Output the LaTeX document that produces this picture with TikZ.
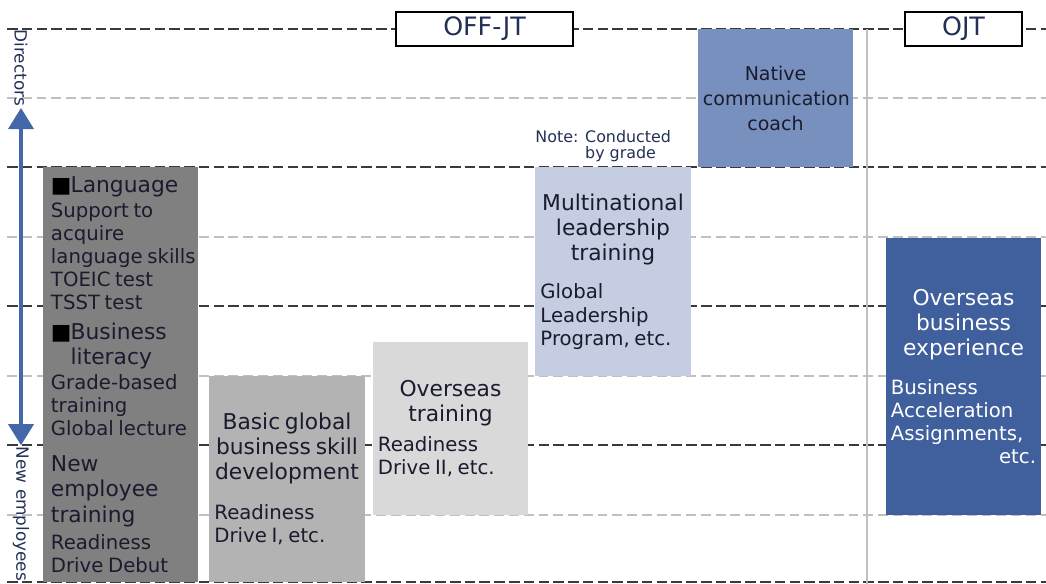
\documentclass[tikz,border=0pt]{standalone}
\usepackage{fontspec}
\setmainfont{DejaVu Sans}
\usepackage{tikz}
\usetikzlibrary{arrows.meta,positioning}
\definecolor{Ink}{HTML}{1A1B2E}
\definecolor{Navy}{HTML}{233056}
\definecolor{AxisBlue}{HTML}{4467AA}
\definecolor{GridDark}{HTML}{3A3A3A}
\definecolor{GridLight}{HTML}{C0C0C0}
\definecolor{GrayDark}{HTML}{808080}
\definecolor{GrayMid}{HTML}{B3B3B3}
\definecolor{GrayLight}{HTML}{D9D9D9}
\definecolor{BlueLight}{HTML}{C5CDE2}
\definecolor{BlueMid}{HTML}{7890BD}
\definecolor{BlueDeep}{HTML}{3F5F9D}
\newcommand{\headfont}{\fontsize{15.5}{17.8}\selectfont}
\newcommand{\bodyfont}{\fontsize{14}{16.4}\selectfont}
\newcommand{\bulletsq}{\makebox[14pt][l]{\textcolor{black}{■}}}

\begin{document}
\begin{tikzpicture}[
    x=0.025cm,y=-0.025cm,
    majorline/.style={draw=GridDark,line width=1.4pt,dash pattern=on 7.5pt off 3pt},
    minorline/.style={draw=GridLight,line width=1pt,dash pattern=on 7pt off 3.5pt},
    cell/.style={rectangle,minimum width=3.875cm,text width=3.625cm,inner xsep=0.125cm,inner ysep=0pt,align=left,text=Ink},
    tag/.style={rectangle,draw=black,line width=1.2pt,fill=white,minimum height=0.85cm,font=\fontsize{18}{20}\selectfont,text=Navy},
    axislabel/.style={rotate=-90,font=\fontsize{12}{13}\selectfont,text=Navy,inner sep=1pt}
]
\useasboundingbox (0,0) rectangle (1046,584);
% grade lines
\foreach \y in {98,237,376,515}{
    \draw[minorline] (7,\y) -- (1046,\y);
}
\foreach \y in {29,167,306,445,582}{
    \draw[majorline] (7,\y) -- (1046,\y);
}
\draw[GridLight,line width=1.5pt] (867,29) -- (867,584);
% programmes
\node[cell,fill=GrayDark,minimum height=10.375cm,text width=3.475cm,inner xsep=0.2cm] (lang) at (120.5,374.5) {%
    {\headfont\bulletsq Language\par}\vspace{1.4pt}
    {\bodyfont Support to\\acquire\\\mbox{language skills}\\TOEIC test\\TSST test\par}\vspace{3.5pt}
    {\headfont\bulletsq Business\\\hspace*{14pt}literacy\par}\vspace{1.4pt}
    {\bodyfont Grade-based\\training\\Global lecture\par}\vspace{7.8pt}
    {\headfont New\\employee\\training\par}\vspace{2.8pt}
    {\bodyfont Readiness\\Drive Debut\par}};
\node[cell,fill=GrayMid,minimum height=5.15cm] (basic) at (287,479) {%
    {\centering\headfont Basic global\\business skill\\development\par}\vspace{12pt}
    {\bodyfont Readiness\\Drive I, etc.\par}};
\node[cell,fill=GrayLight,minimum height=4.325cm] (ovtrain) at (450.5,428.5) {%
    {\centering\headfont Overseas\\training\par}\vspace{5.5pt}
    {\bodyfont Readiness\\Drive II, etc.\par}};
\node[cell,fill=BlueLight,minimum height=5.225cm] (multi) at (613,271.5) {%
    {\centering\headfont Multinational\\leadership\\training\par}\vspace{11pt}
    {\bodyfont Global\\Leadership\\Program, etc.\par}};
\node[cell,fill=BlueMid,minimum height=3.45cm] (native) at (775.5,98) {%
    {\centering\fontsize{13.5}{17.8}\selectfont Native\\communication\\coach\par}};
\node[cell,fill=BlueDeep,text=white,minimum height=6.925cm] (ovbiz) at (963.5,376.5) {%
    {\centering\headfont Overseas\\business\\experience\par}\vspace{11pt}
    {\bodyfont Business\\Acceleration\\Assignments,\par\raggedleft etc.\par}};
\node[above right=3pt and 0pt of multi.north west,align=left,inner sep=0pt,
      font=\fontsize{11.3}{12}\selectfont,text=Navy] (note) {Note: Conducted\\\phantom{Note: }by grade};
% headers
\node[tag,minimum width=4.425cm] (offjt) at (484.5,29) {OFF-JT};
\node[tag,minimum width=2.925cm] (ojt) at (963.5,29) {OJT};
% grade axis
\node[axislabel] (directors) at (21,68) {Directors};
\node[axislabel] (newemp) at (21,514) {New employees};
\draw[AxisBlue,line width=2.2pt,{Triangle[width=18pt,length=15pt]}-{Triangle[width=18pt,length=15pt]}] (directors.east) -- (newemp.west);
\end{tikzpicture}
\end{document}
